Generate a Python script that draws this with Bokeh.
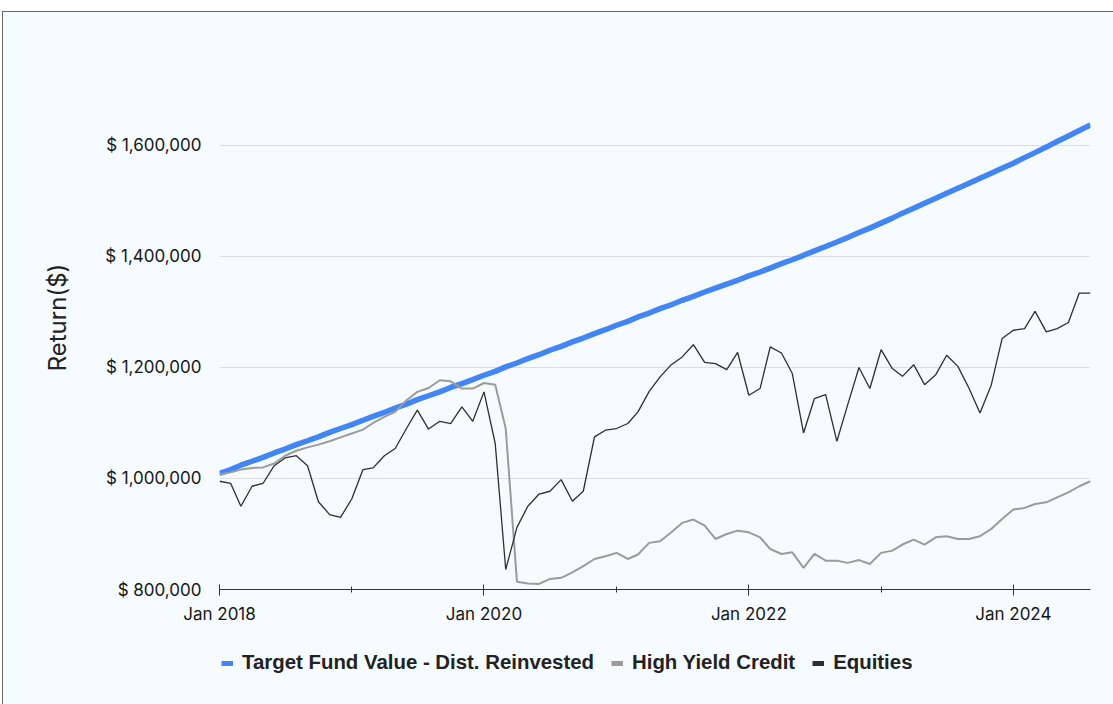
from datetime import datetime
from bokeh.plotting import figure
from bokeh.layouts import column
from bokeh.models import (ColumnDataSource, Range1d, FixedTicker, DatetimeTickFormatter,
                          Legend, LegendItem)
from bokeh.embed import file_html
from bokeh.resources import INLINE

# ---------------- data (values in thousands of $) ----------------
start_month = "2018-01"   # monthly observations, Jan 2018 .. Aug 2024
target_fund_k = [
    1009, 1016, 1024, 1031, 1038, 1046, 1053, 1061, 1068, 1075, 1083, 1090,
    1097, 1105, 1112, 1119, 1127, 1134, 1142, 1149, 1156, 1164, 1171, 1178,
    1186, 1193, 1201, 1208, 1216, 1223, 1231, 1238, 1246, 1253, 1261, 1268,
    1276, 1283, 1291, 1298, 1306, 1313, 1321, 1328, 1336, 1343, 1350, 1357,
    1365, 1372, 1379, 1387, 1394, 1402, 1410, 1418, 1426, 1434, 1443, 1451,
    1460, 1469, 1478, 1487, 1496, 1505, 1514, 1523, 1532, 1541, 1550, 1559,
    1568, 1578, 1587, 1597, 1607, 1617, 1627, 1637,
]
high_yield_k = [
    1007, 1011, 1016, 1019, 1020, 1027, 1041, 1050, 1056, 1061, 1067, 1074,
    1081, 1088, 1100, 1111, 1120, 1141, 1156, 1163, 1177, 1175, 1162, 1162,
    1172, 1169, 1090, 814, 811, 810, 819, 821, 831, 842, 855, 860,
    866, 855, 863, 884, 887, 903, 920, 926, 915, 891, 900, 906,
    903, 894, 873, 864, 867, 839, 864, 852, 852, 848, 853, 846,
    866, 870, 881, 890, 881, 894, 896, 891, 891, 896, 909, 927,
    944, 947, 954, 957, 966, 975, 986, 995,
]
equities_k = [
    995, 991, 950, 986, 991, 1023, 1037, 1041, 1023, 958, 935, 930,
    963, 1016, 1019, 1041, 1054, 1090, 1123, 1089, 1103, 1099, 1129, 1103,
    1156, 1063, 836, 912, 950, 972, 977, 998, 959, 977, 1075, 1087,
    1090, 1099, 1120, 1157, 1183, 1205, 1219, 1241, 1209, 1207, 1196, 1227,
    1150, 1162, 1237, 1226, 1189, 1082, 1144, 1151, 1067, 1133, 1200, 1162,
    1232, 1198, 1184, 1205, 1169, 1187, 1222, 1202, 1162, 1118, 1168, 1252,
    1267, 1270, 1301, 1264, 1270, 1281, 1334, 1334,
]
series_names = ["Target Fund Value - Dist. Reinvested", "High Yield Credit", "Equities"]
series_colors = ["#4285f4", "#9b9b9b", "#2f2f2f"]
y_ticks = [800000, 1000000, 1200000, 1400000, 1600000]
x_major_years = [2018, 2020, 2022, 2024]
x_minor_years = [2019, 2021, 2023]

# ---------------- build ----------------
y0, m0 = map(int, start_month.split("-"))
dates = [datetime(y0 + (m0 - 1 + k) // 12, (m0 - 1 + k) % 12 + 1, 1) for k in range(len(target_fund_k))]
EPOCH = datetime(1970, 1, 1)
def ms(d):
    return (d - EPOCH).total_seconds() * 1000.0

src = ColumnDataSource(dict(
    date=dates,
    target=[v * 1000 for v in target_fund_k],
    hy=[v * 1000 for v in high_yield_k],
    eq=[v * 1000 for v in equities_k],
))
ycols = ["target", "hy", "eq"]

BG = "#f5fbfe"
W = 1110
p = figure(width=W, height=630, x_axis_type="datetime",
           output_backend="svg", toolbar_location=None,
           x_range=Range1d(datetime(2018, 1, 1), datetime(2024, 8, 1)),
           y_range=Range1d(800000, 1780000),
           min_border_left=216, min_border_right=23, min_border_top=33, min_border_bottom=53,
           background_fill_color=BG, border_fill_color=BG, outline_line_color=None)

r_t = p.line(x="date", y="target", source=src, color=series_colors[0], line_width=5.5)
r_h = p.line(x="date", y="hy", source=src, color=series_colors[1], line_width=2)
r_e = p.line(x="date", y="eq", source=src, color=series_colors[2], line_width=1.3)

# axes
p.xgrid.visible = False
p.ygrid.grid_line_color = "#dcdfe2"
p.ygrid.grid_line_width = 1

xa = p.xaxis[0]
xa.ticker = FixedTicker(ticks=[ms(datetime(y, 1, 1)) for y in x_major_years],
                        minor_ticks=[ms(datetime(y, 1, 1)) for y in x_minor_years])
fmt = "%b %Y"
xa.formatter = DatetimeTickFormatter(years=fmt, months=fmt, days=fmt, hours=fmt,
                                     minutes=fmt, seconds=fmt, milliseconds=fmt)
xa.axis_line_color = "#333333"
xa.axis_line_width = 1.2
xa.major_tick_line_color = "#333333"
xa.major_tick_in = 5
xa.major_tick_out = 6
xa.minor_tick_line_color = "#333333"
xa.minor_tick_in = 3
xa.minor_tick_out = 3
xa.major_label_text_font = "Inter"
xa.major_label_text_font_size = "17px"
xa.major_label_text_color = "#161616"
xa.major_label_standoff = 8

ya = p.yaxis[0]
ya.ticker = FixedTicker(ticks=y_ticks)
ya.major_label_overrides = {v: "$ {:,}".format(v) for v in y_ticks}
ya.axis_line_color = None
ya.major_tick_line_color = None
ya.minor_tick_line_color = None
ya.major_label_standoff = 12
ya.major_label_text_font = "Inter"
ya.major_label_text_font_size = "17px"
ya.major_label_text_color = "#161616"
ya.axis_label = "Return($)"
ya.axis_label_text_font = "Inter"
ya.axis_label_text_font_size = "24px"
ya.axis_label_text_font_style = "normal"
ya.axis_label_text_color = "#222222"
ya.axis_label_standoff = 30

# legend strip below the chart (its frame is aligned with the chart's frame)
p2 = figure(width=W, height=62, output_backend="svg", toolbar_location=None,
            x_range=Range1d(0, 1), y_range=Range1d(0, 1),
            min_border_left=0, min_border_right=0, min_border_top=0, min_border_bottom=0,
            background_fill_color=BG, border_fill_color=BG, outline_line_color=None)
p2.axis.visible = False
p2.grid.visible = False
# thick swatch renderers: same series, far outside this strip's ranges (not visible)
sw = [p2.line(x="date", y=c, source=src, color=col, line_width=5)
      for c, col in zip(ycols, series_colors)]
legend = Legend(items=[LegendItem(label=n, renderers=[r]) for n, r in zip(series_names, sw)],
                orientation="horizontal", location=(2, 30),
                label_text_font="Liberation Sans", label_text_font_style="bold",
                label_text_font_size="20.4px", label_text_color="#222222",
                glyph_width=12, glyph_height=20, label_height=20, label_standoff=9,
                spacing=17, padding=0, margin=0, border_line_color=None,
                background_fill_alpha=0)
p2.add_layout(legend, "center")

layout = column(p, p2, spacing=0,
                styles={"margin-top": "12px", "margin-left": "3px",
                        "outline": "1.5px solid #6a6a6a", "background-color": BG})

open("out.html", "w").write(file_html(layout, INLINE))
